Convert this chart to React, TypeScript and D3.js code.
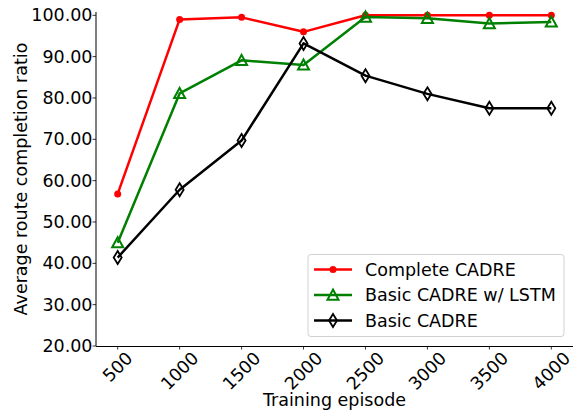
import * as d3 from 'd3';
import React, { useEffect, useRef } from 'react';

// data
const episodes = [500, 1000, 1500, 2000, 2500, 3000, 3500, 4000];
const completeCadre = [56.8, 99.0, 99.5, 96.0, 100.0, 100.0, 100.0, 100.0];
const basicLstm = [45.0, 81.1, 89.1, 88.0, 99.6, 99.3, 98.0, 98.4];
const basicCadre = [41.4, 57.8, 69.7, 93.2, 85.4, 81.0, 77.5, 77.5];
const yTicks = [20, 30, 40, 50, 60, 70, 80, 90, 100];
const seriesNames = ['Complete CADRE', 'Basic CADRE w/ LSTM', 'Basic CADRE'];

const FONT = '"DejaVu Sans", sans-serif';
const FS = 17.5;

const App = () => {
  const svgRef = useRef<SVGSVGElement>(null);

  useEffect(() => {
    const width = 576;
    const height = 416;
    const margin = { top: 12, right: 3, bottom: 70, left: 96 };

    const x = d3
      .scaleLinear()
      .domain([325, 4175])
      .range([margin.left, width - margin.right]);
    const y = d3
      .scaleLinear()
      .domain([20, 100.8])
      .range([height - margin.bottom, margin.top]);

    const svg = d3.select(svgRef.current);
    svg.selectAll('*').remove();
    svg.attr('width', width).attr('height', height);

    const bottom = height - margin.bottom;

    // y axis (gray-ish spine like the original)
    svg.append('line')
      .attr('x1', margin.left).attr('x2', margin.left)
      .attr('y1', margin.top).attr('y2', bottom)
      .attr('stroke', '#000').attr('stroke-width', 1);
    const yg = svg.append('g');
    yTicks.forEach(t => {
      yg.append('line')
        .attr('x1', margin.left - 3.5).attr('x2', margin.left)
        .attr('y1', y(t)).attr('y2', y(t))
        .attr('stroke', '#000').attr('stroke-width', 0.8);
      yg.append('text')
        .attr('x', margin.left - 3.5)
        .attr('y', y(t))
        .attr('text-anchor', 'end')
        .attr('dominant-baseline', 'central')
        .attr('font-family', FONT)
        .attr('font-size', FS)
        .attr('fill', '#000')
        .text(t.toFixed(2));
    });

    // x axis
    svg.append('line')
      .attr('x1', margin.left).attr('x2', width - margin.right)
      .attr('y1', bottom + 0.5).attr('y2', bottom + 0.5)
      .attr('stroke', '#000').attr('stroke-width', 1.2);
    const xg = svg.append('g');
    episodes.forEach(e => {
      xg.append('line')
        .attr('x1', x(e)).attr('x2', x(e))
        .attr('y1', bottom).attr('y2', bottom + 3.5)
        .attr('stroke', '#000').attr('stroke-width', 0.8);
      const label = String(e);
      const w = label.length * 0.636 * FS;
      const cy = bottom + 3 + (w + FS) / 2.828;
      xg.append('text')
        .attr('transform', `translate(${x(e)},${cy}) rotate(-45)`)
        .attr('text-anchor', 'middle')
        .attr('dominant-baseline', 'central')
        .attr('font-family', FONT)
        .attr('font-size', FS)
        .attr('fill', '#000')
        .text(label);
    });

    // axis titles
    svg.append('text')
      .attr('x', (margin.left + width - margin.right) / 2)
      .attr('y', 406)
      .attr('text-anchor', 'middle')
      .attr('font-family', FONT)
      .attr('font-size', FS)
      .text('Training episode');
    svg.append('text')
      .attr('transform', `translate(27,${(margin.top + bottom) / 2}) rotate(-90)`)
      .attr('text-anchor', 'middle')
      .attr('font-family', FONT)
      .attr('font-size', FS)
      .text('Average route completion ratio');

    const line = d3.line<number>()
      .x((_, i) => x(episodes[i]))
      .y(d => y(d));

    const colors = ['#ff0000', '#008000', '#000000'];
    const allSeries = [completeCadre, basicLstm, basicCadre];

    const drawMarker = (g, kind, cx, cy, color) => {
      if (kind === 0) {
        g.append('circle')
          .attr('cx', cx).attr('cy', cy).attr('r', 3.5)
          .attr('fill', color);
      } else if (kind === 1) {
        const s = 5.5;
        g.append('path')
          .attr('d', `M${cx},${cy - s} L${cx + s},${cy + s * 0.85} L${cx - s},${cy + s * 0.85} Z`)
          .attr('fill', 'none')
          .attr('stroke', color)
          .attr('stroke-width', 2);
      } else {
        g.append('path')
          .attr('d', `M${cx},${cy - 6.5} L${cx + 4},${cy} L${cx},${cy + 6.5} L${cx - 4},${cy} Z`)
          .attr('fill', 'none')
          .attr('stroke', color)
          .attr('stroke-width', 1.8);
      }
    };

    allSeries.forEach((vals, k) => {
      const g = svg.append('g');
      g.append('path')
        .datum(vals)
        .attr('fill', 'none')
        .attr('stroke', colors[k])
        .attr('stroke-width', 2.5)
        .attr('stroke-linejoin', 'round')
        .attr('d', line);
      vals.forEach((v, i) => drawMarker(g, k, x(episodes[i]), y(v), colors[k]));
    });

    // legend
    const lg = svg.append('g');
    lg.append('rect')
      .attr('x', 308).attr('y', 254.5)
      .attr('width', 256).attr('height', 82)
      .attr('rx', 3)
      .attr('fill', '#fff').attr('fill-opacity', 0.8)
      .attr('stroke', '#d0d0d0').attr('stroke-width', 1);
    seriesNames.forEach((name, k) => {
      const ry = 269.5 + k * 25.5;
      lg.append('line')
        .attr('x1', 314).attr('x2', 352)
        .attr('y1', ry).attr('y2', ry)
        .attr('stroke', colors[k]).attr('stroke-width', 2.5);
      drawMarker(lg, k, 333, ry, colors[k]);
      lg.append('text')
        .attr('x', 365).attr('y', ry)
        .attr('dominant-baseline', 'central')
        .attr('font-family', FONT)
        .attr('font-size', FS)
        .text(name);
    });
  }, []);

  return (
    <svg
      ref={svgRef}
      style={{ position: 'absolute', left: 0, top: 0, display: 'block', background: '#fff' }}
    ></svg>
  );
};

export default App;
